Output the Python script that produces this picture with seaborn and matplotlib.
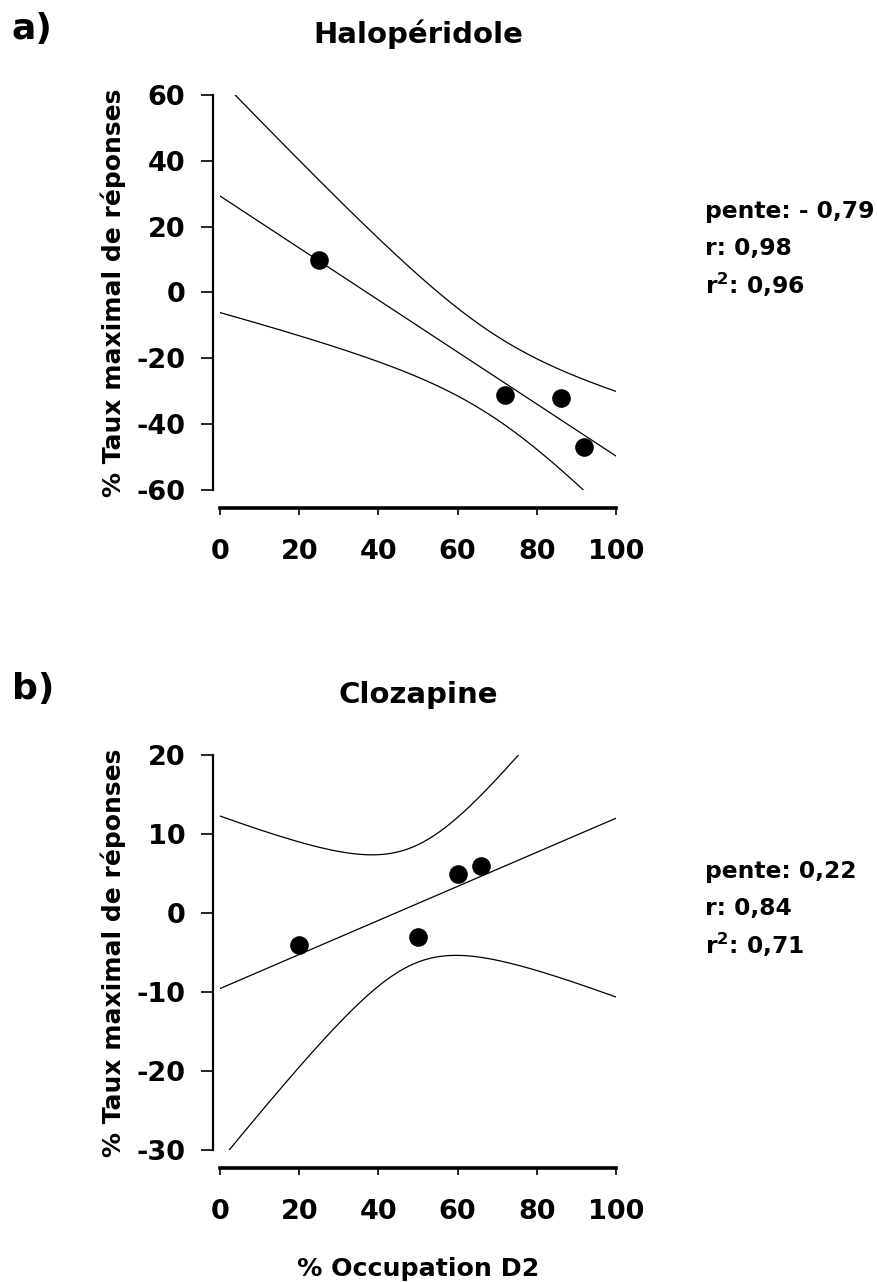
import numpy as np
import matplotlib
matplotlib.use("Agg")
import matplotlib.pyplot as plt
import seaborn as sns

# ---------------- data ----------------
halo_occupation = [25, 72, 86, 92]
halo_response = [10, -31, -32, -47]
cloz_occupation = [20, 50, 60, 66]
cloz_response = [-4, -3, 5, 6]

titles = ["Halopéridole", "Clozapine"]
panel_letters = ["a)", "b)"]
stats_pente = ["pente: - 0,79", "pente: 0,22"]
stats_r = ["r: 0,98", "r: 0,84"]
stats_r2 = ["r$^2$: 0,96", "r$^2$: 0,71"]
x_ticks = [0, 20, 40, 60, 80, 100]
y_ticks_a = [-60, -40, -20, 0, 20, 40, 60]
y_ticks_b = [-30, -20, -10, 0, 10, 20]
y_label = "% Taux maximal de réponses"
x_label = "% Occupation D2"
T_CRIT = 4.303  # Student t, 95 %, df = n - 2 = 2

# ---------------- style ----------------
sns.set_theme(style="ticks")
plt.rcParams["font.family"] = ["DejaVu Sans"]
plt.rcParams["font.weight"] = "bold"
plt.rcParams["axes.labelweight"] = "bold"
plt.rcParams["axes.titleweight"] = "bold"
plt.rcParams["mathtext.default"] = "bf"
plt.rcParams["axes.unicode_minus"] = False
for k in ["text.color", "axes.labelcolor", "xtick.color", "ytick.color", "axes.edgecolor"]:
    plt.rcParams[k] = "black"

W, H = 878, 1282
fig = plt.figure(figsize=(W / 100, H / 100), dpi=100)


def px_axes(left, top, right, bottom):
    return [left / W, 1 - bottom / H, (right - left) / W, (bottom - top) / H]


def ci_band(xs, ys, grid):
    x = np.asarray(xs, float)
    y = np.asarray(ys, float)
    n = len(x)
    xm, ym = x.mean(), y.mean()
    sxx = ((x - xm) ** 2).sum()
    b = ((x - xm) * (y - ym)).sum() / sxx
    a = ym - b * xm
    s = np.sqrt(((y - (a + b * x)) ** 2).sum() / (n - 2))
    se = s * np.sqrt(1 / n + (grid - xm) ** 2 / sxx)
    fit = a + b * grid
    return fit - T_CRIT * se, fit + T_CRIT * se


panels = [
    (halo_occupation, halo_response, y_ticks_a, 0),
    (cloz_occupation, cloz_response, y_ticks_b, 660),
]

grid = np.linspace(0, 100, 301)
for i, (xs, ys, yt, shift) in enumerate(panels):
    ax = fig.add_axes(px_axes(220, 95 + shift, 616, 490 + shift))
    ax.set_xlim(0, 100)
    ax.set_ylim(min(yt), max(yt))

    sns.regplot(x=xs, y=ys, ax=ax, ci=None, truncate=False, color="black",
                scatter_kws={"s": 180, "alpha": 1, "linewidths": 0, "zorder": 3},
                line_kws={"lw": 0.9})
    lo, hi = ci_band(xs, ys, grid)
    sns.lineplot(x=grid, y=lo, ax=ax, color="black", lw=0.9)
    sns.lineplot(x=grid, y=hi, ax=ax, color="black", lw=0.9)

    ax.set_xlim(0, 100)
    ax.set_ylim(min(yt), max(yt))
    ax.set_xticks(x_ticks)
    ax.set_yticks(yt)

    sns.despine(ax=ax, offset={"left": 5, "bottom": 13})
    ax.spines["left"].set_linewidth(1.6)
    ax.spines["bottom"].set_linewidth(2.6)
    ax.tick_params(axis="y", length=8.6, width=1.2, pad=11.5, labelsize=19.5)
    ax.tick_params(axis="x", length=5, width=1.2, pad=17, labelsize=19.5)

    ax.set_ylabel(y_label, fontsize=18, fontweight="bold", va="center")
    ax.yaxis.set_label_coords((113 - 220) / 396, 0.5)
    if i == 1:
        ax.set_xlabel(x_label, fontsize=18.2, fontweight="bold", va="baseline")
        ax.xaxis.set_label_coords(0.5, -(1276 - 490 - shift) / 395)
    else:
        ax.set_xlabel("")

    ax.set_title(titles[i], fontsize=21, fontweight="bold", pad=0,
                 y=1 + (95 - 43) / 395, va="baseline")

    fig.text(12 / W, 1 - (39 + shift) / H, panel_letters[i], fontsize=26,
             fontweight="bold", ha="left", va="baseline")
    for txt, base in zip([stats_pente[i], stats_r[i], stats_r2[i]], [218, 255, 294]):
        fig.text(705 / W, 1 - (base + shift) / H, txt, fontsize=16.8,
                 fontweight="bold", ha="left", va="baseline")

fig.savefig("out.png", dpi=100)
